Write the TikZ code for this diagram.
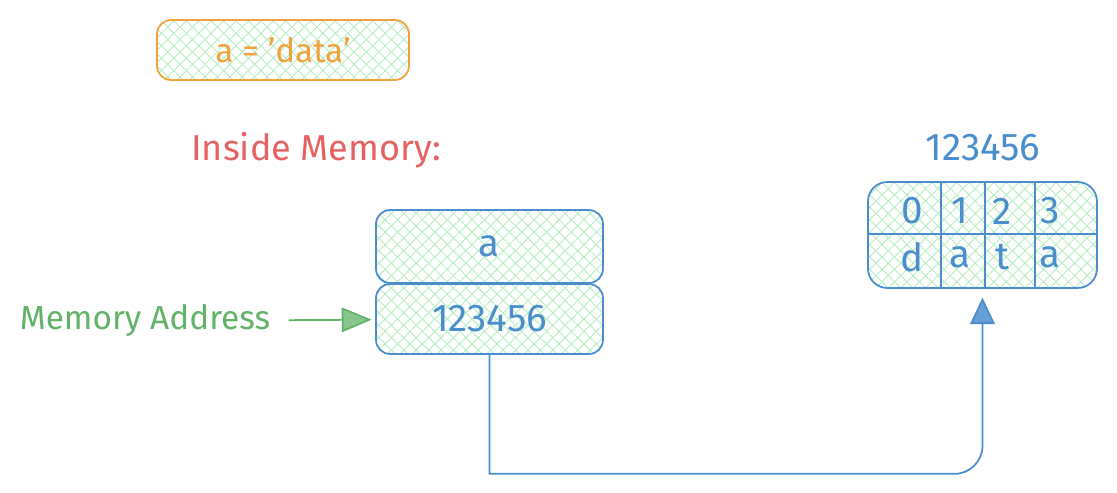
\documentclass[tikz,border=0pt]{standalone}
\usepackage{fontspec}
\setmainfont{Fira Sans}
\usetikzlibrary{arrows.meta,patterns.meta}

\definecolor{memblue}{RGB}{74,142,206}
\definecolor{hatchgreen}{RGB}{180,236,192}
\definecolor{varorange}{RGB}{240,162,62}
\definecolor{headred}{RGB}{230,98,98}
\definecolor{addrgreen}{RGB}{98,178,104}

\begin{document}
\begin{tikzpicture}[
    x=0.02cm, y=-0.02cm,
    hatch/.style={pattern={Lines[angle=45,distance=5pt,line width=0.5pt]}, pattern color=hatchgreen,
        preaction={pattern={Lines[angle=-45,distance=5pt,line width=0.5pt]}, pattern color=hatchgreen}},
    txt/.style={font=\fontsize{19}{22}\selectfont},
    bigtxt/.style={font=\fontsize{22}{26}\selectfont},
    membox/.style={hatch, draw=memblue, line width=1pt, rounded corners=8pt,
        text=memblue, minimum width=4.54cm},
    celltext/.style={bigtxt, text=memblue, inner sep=1pt},
    divider/.style={draw=memblue, line width=0.8pt},
    link/.style={draw=memblue, line width=1pt, -{Triangle[length=15pt,width=14pt,fill=memblue!85]}},
    pointer/.style={draw=addrgreen, line width=1pt, -{Triangle[length=17pt,width=14pt,fill=addrgreen!75]}}
]
    % Page frame
    \useasboundingbox (0,0) rectangle (1117,493);

    % Assignment
    \node[txt, hatch, draw=varorange, line width=1pt, rounded corners=8pt, text=varorange,
          minimum width=5.04cm, minimum height=1.2cm] (assign) at (283,50) {a = 'data'};

    % Heading
    \node[font=\fontsize{20.5}{24}\selectfont, text=headred] (heading) at (316,150) {Inside Memory:};

    % Variable and its address
    \node[membox, bigtxt, minimum height=1.46cm] (var) at (489.5,246.5) {a};
    \node[membox, bigtxt, minimum height=1.4cm] (addr) at (489.5,319) {123456};

    % Label pointing to the address
    \node[txt, text=addrgreen] (memlbl) at (145,321) {Memory Address};
    \draw[pointer, shorten <=7pt, shorten >=2pt] (memlbl) -- (addr);

    % Data stored at the address
    \node[bigtxt, text=memblue] (arrlbl) at (983,148) {123456};
    \node[hatch, draw=memblue, line width=1pt, rounded corners=11pt,
          minimum width=4.58cm, minimum height=2.12cm] (arr) at (982.5,235) {};
    \draw[divider] (arr.west |- 0,234) -- (arr.east |- 0,234);
    \foreach \x in {941,985,1035}
        \draw[divider] (arr.north -| \x,0) -- (arr.south -| \x,0);
    \foreach \x/\t [count=\i] in {912/0, 960/1, 1002/2, 1050/3}
        \node[celltext] (idx\i) at (\x,211) {\t};
    \foreach \x/\t [count=\i] in {912/d, 960/a, 1002/t, 1050/a}
        \node[celltext] (chr\i) at (\x,257) {\t};

    % Reference from address to data
    \draw[link, shorten >=5pt] (addr.south) -- ++(0,119) [rounded corners=16pt] -| (arr.south);

\end{tikzpicture}
\end{document}
